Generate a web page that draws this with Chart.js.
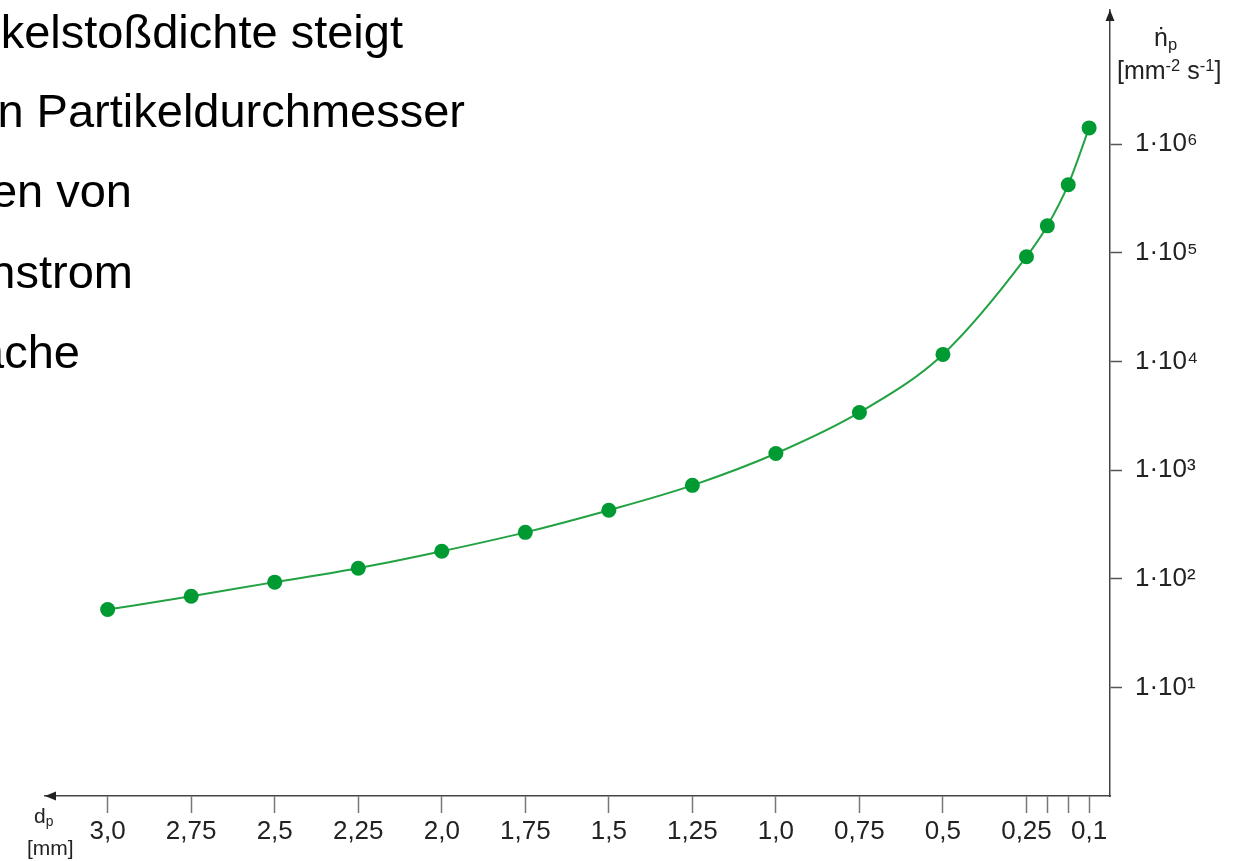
<!DOCTYPE html>
<html lang="de">
<head>
<meta charset="utf-8">
<title>Partikelstoßdichte</title>
<script src="https://cdn.jsdelivr.net/npm/chart.js@4.4.1/dist/chart.umd.min.js"></script>
<style>
  html, body { margin: 0; padding: 0; background: #fff; }
  #wrap { position: relative; width: 1238px; height: 861px; overflow: hidden; font-family: "Liberation Sans", Arial, sans-serif; color: #111; }
  #wrap canvas { position: absolute; left: 0; top: 0; }
  .line { position: absolute; white-space: nowrap; font-size: 47px; line-height: 1; color: #000; }
  .ax { position: absolute; white-space: nowrap; font-size: 21px; line-height: 1; color: #222; }
  .ax.top { font-size: 25px; }
  .ax sub, .ax sup { font-size: 0.66em; vertical-align: baseline; position: relative; }
  .ax sub { top: 0.25em; }
  .ax sup { top: -0.5em; }
</style>
</head>
<body>
<div id="wrap">
  <canvas id="chart-np" width="1238" height="861"></canvas>
  <div class="line" style="right:835px; top:8px;">kelstoßdichte steigt</div>
  <div class="line" style="right:773px; top:87px;">n Partikeldurchmesser</div>
  <div class="line" style="right:1106px; top:167px;">en von</div>
  <div class="line" style="right:1105px; top:248px;">nstrom</div>
  <div class="line" style="right:1158px; top:328px;">ache</div>
  <div class="ax" style="left:34px; top:805px;">d<sub>p</sub></div>
  <div class="ax" style="left:27px; top:837px;">[mm]</div>
  <div class="ax top" style="left:1154px; top:25px;">ṅ<sub>p</sub></div>
  <div class="ax top" style="left:1117px; top:58px;">[mm<sup>-2</sup> s<sup>-1</sup>]</div>
</div>
<script>
(function () {
  // Partikeldurchmesser d_p [mm] und Partikelstoßdichte n_p [mm^-2 s^-1]
  var dValues = [3.0, 2.75, 2.5, 2.25, 2.0, 1.75, 1.5, 1.25, 1.0, 0.75, 0.5, 0.25, 0.2, 0.15, 0.1];
  var npValues = [52, 69, 93, 125, 179, 267, 427, 723, 1420, 3390, 11600, 92000, 177000, 423000, 1410000];

  var xTickValues = [3.0, 2.75, 2.5, 2.25, 2.0, 1.75, 1.5, 1.25, 1.0, 0.75, 0.5, 0.25, 0.2, 0.15, 0.1];
  var xTickLabels = ['3,0', '2,75', '2,5', '2,25', '2,0', '1,75', '1,5', '1,25', '1,0', '0,75', '0,5', '0,25', '', '', '0,1'];
  var yTickValues = [10, 100, 1000, 10000, 100000, 1000000];
  var yTickLabels = ['1·10¹', '1·10²', '1·10³', '1·10⁴', '1·10⁵', '1·10⁶'];

  var green = '#009a32';
  var axisColor = '#444';

  // x axis: linear down to 0,25 mm, then stretched (each 0,05 mm step = 1/4 of a 0,25 mm step)
  class BrokenScale extends Chart.LinearScale {
    toUnits(v) {
      var b = this.options.breakAt;
      return v >= b ? (this.options.max - v) / 0.25 : (this.options.max - b) / 0.25 + (b - v) / 0.05 * 0.25;
    }
    getPixelForValue(v) {
      var u0 = this.toUnits(this.options.max);
      var u1 = this.toUnits(this.options.min);
      return this.getPixelForDecimal((this.toUnits(v) - u0) / (u1 - u0));
    }
    getValueForPixel(p) {
      var u0 = this.toUnits(this.options.max);
      var u1 = this.toUnits(this.options.min);
      var u = u0 + this.getDecimalForPixel(p) * (u1 - u0);
      var ub = this.toUnits(this.options.breakAt);
      var b = this.options.breakAt;
      return u <= ub ? this.options.max - u * 0.25 : b - (u - ub) / 0.25 * 0.05;
    }
  }
  BrokenScale.id = 'broken';
  Chart.register(BrokenScale);

  var el = document.getElementById('chart-np');
  var points = dValues.map(function (d, i) { return { x: d, y: npValues[i] }; });

  var arrows = {
    id: 'axisArrows',
    afterDraw: function (chart) {
      var a = chart.chartArea;
      var ctx = chart.ctx;
      ctx.save();
      ctx.fillStyle = '#222';
      ctx.beginPath();
      ctx.moveTo(a.left, a.bottom);
      ctx.lineTo(a.left + 11, a.bottom - 4.5);
      ctx.lineTo(a.left + 11, a.bottom + 4.5);
      ctx.closePath();
      ctx.fill();
      ctx.beginPath();
      ctx.moveTo(a.right, a.top);
      ctx.lineTo(a.right - 4.5, a.top + 11);
      ctx.lineTo(a.right + 4.5, a.top + 11);
      ctx.closePath();
      ctx.fill();
      ctx.restore();
    },
  };

  new Chart(el, {
    type: 'line',
    data: {
      datasets: [
        {
          data: points,
          borderColor: '#22a243',
          borderWidth: 2,
          backgroundColor: green,
          pointBackgroundColor: green,
          pointBorderWidth: 0,
          pointRadius: 7.5,
          cubicInterpolationMode: 'monotone',
          fill: false,
          clip: false,
        },
      ],
    },
    options: {
      responsive: false,
      animation: false,
      events: [],
      layout: { padding: { left: 45, top: 10, right: 0, bottom: 0 } },
      plugins: { legend: { display: false }, tooltip: { enabled: false } },
      scales: {
        x: {
          type: 'broken',
          position: 'bottom',
          min: 0.05,
          max: 3.1875,
          breakAt: 0.25,
          afterBuildTicks: function (s) {
            s.ticks = xTickValues.map(function (v) { return { value: v }; });
          },
          afterFit: function (s) {
            s.height = 65;
            s.paddingLeft = 0;
            s.paddingRight = 0;
          },
          grid: { display: true, drawOnChartArea: false, drawTicks: true, tickLength: 17, tickWidth: 1.5, tickColor: '#777' },
          border: { display: true, color: axisColor, width: 1.5 },
          ticks: {
            autoSkip: false,
            maxRotation: 0,
            padding: 3,
            color: '#222',
            font: { family: '"Liberation Sans", Arial, sans-serif', size: 26 },
            callback: function (v, i) { return xTickLabels[i]; },
          },
        },
        y: {
          type: 'logarithmic',
          position: 'right',
          min: 1,
          max: 17160000,
          afterBuildTicks: function (s) {
            s.ticks = yTickValues.map(function (v) { return { value: v }; });
          },
          afterFit: function (s) {
            s.width = 128;
            s.paddingTop = 0;
            s.paddingBottom = 0;
          },
          grid: { display: true, drawOnChartArea: false, drawTicks: true, tickLength: 12, tickWidth: 1.5, tickColor: '#555' },
          border: { display: true, color: axisColor, width: 1.5 },
          ticks: {
            padding: 13,
            color: '#222',
            font: { family: '"Liberation Sans", Arial, sans-serif', size: 26 },
            callback: function (v, i) { return yTickLabels[i]; },
          },
        },
      },
    },
    plugins: [arrows],
  });
})();
</script>
</body>
</html>
